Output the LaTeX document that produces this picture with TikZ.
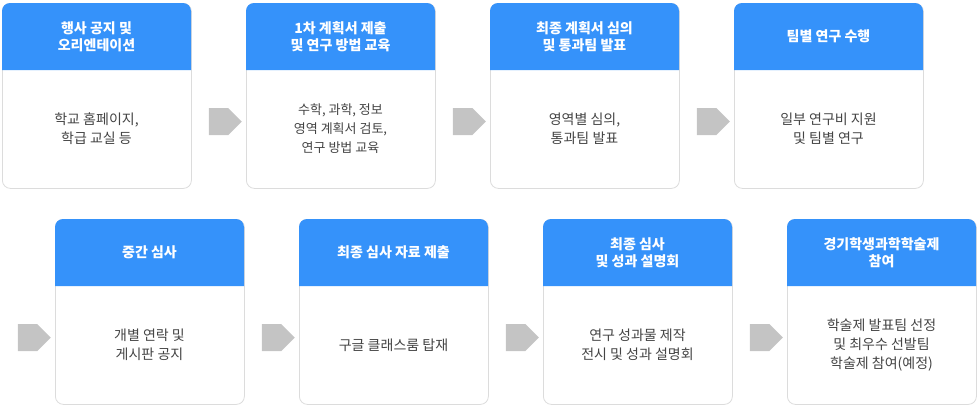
\documentclass[tikz,border=0pt]{standalone}
\usepackage{fontspec}
\setmainfont{Noto Sans CJK KR}
\usetikzlibrary{shapes.arrows}
\definecolor{hdr}{HTML}{3592FA}
\definecolor{bd}{HTML}{DCDCDC}
\definecolor{tx}{HTML}{444444}
\definecolor{ar}{HTML}{C4C4C4}
\tikzset{x=1pt,y=-1pt,
 box/.style={draw=bd,line width=0.8pt,rounded corners=8pt,fill=white,minimum width=189pt,inner sep=0pt,anchor=north west},
 hd/.style={fill=hdr,rounded corners=8pt},
 ht/.style={text=white,font=\fontsize{14}{17}\selectfont\bfseries,align=center},
 bt/.style={text=tx,font=\fontsize{14}{19}\selectfont,align=center},
 arw/.style={single arrow,fill=ar,minimum height=33pt,minimum width=27pt,single arrow head extend=0pt,inner sep=0pt,shape border uses incircle,single arrow tip angle=90}}
\newcommand{\stepbox}[6]{% name,x,y,h,header,body
 \node[box,minimum height=#4pt] (#1) at (#2,#3) {};
 \fill[hdr] ({#2},{#3+67}) -- ({#2},{#3+8}) arc[start angle=180,end angle=90,radius=8pt] -- ({#2+181},{#3}) arc[start angle=90,end angle=0,radius=8pt] -- ({#2+189},{#3+67}) -- cycle;
 \node[ht] (#1h) at ({#2+94.5},{#3+33.5}) {#5};
 \node[bt] (#1b) at ({#2+94.5},{#3+67+0.5*(#4-67)}) {#6};}
\begin{document}
\begin{tikzpicture}
\useasboundingbox (0,0) rectangle (980,418);
\stepbox{a}{2}{3}{185}{행사 공지 및\\오리엔테이션}{학교 홈페이지,\\학급 교실 등}
\stepbox{b}{246}{3}{185}{1차 계획서 제출\\및 연구 방법 교육}{\fontsize{13}{17}\selectfont 수학, 과학, 정보\\\fontsize{13}{17}\selectfont 영역 계획서 검토,\\\fontsize{13}{17}\selectfont 연구 방법 교육}
\stepbox{c}{490}{3}{185}{최종 계획서 심의\\및 통과팀 발표}{영역별 심의,\\통과팀 발표}
\stepbox{d}{734}{3}{185}{팀별 연구 수행}{일부 연구비 지원\\및 팀별 연구}
\stepbox{e}{55}{219}{185}{중간 심사}{개별 연락 및\\게시판 공지}
\stepbox{f}{299}{219}{185}{최종 심사 자료 제출}{구글 클래스룸 탑재}
\stepbox{g}{543}{219}{185}{최종 심사\\및 성과 설명회}{연구 성과물 제작\\전시 및 성과 설명회}
\stepbox{h}{787}{219}{185}{경기학생과학학술제\\참여}{학술제 발표팀 선정\\및 최우수 선발팀\\학술제 참여(예정)}
\node[arw] (a1) at (218.5,121.5) {};
\node[arw] (a2) at (462.5,121.5) {};
\node[arw] (a3) at (706.5,121.5) {};
\node[arw] (a4) at (27.5,337.5) {};
\node[arw] (a5) at (271.5,337.5) {};
\node[arw] (a6) at (515.5,337.5) {};
\node[arw] (a7) at (759.5,337.5) {};
\end{tikzpicture}
\end{document}
